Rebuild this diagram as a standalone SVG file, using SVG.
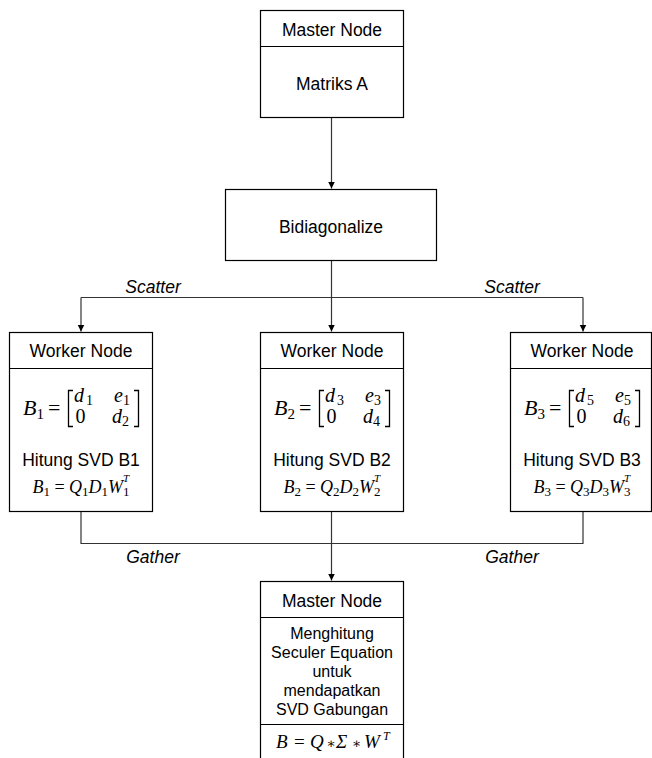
<svg xmlns="http://www.w3.org/2000/svg" width="652" height="758" viewBox="0 0 652 758">
<defs>
<style>
.box{fill:#fff;stroke:#000;stroke-width:1.2}
.div{stroke:#000;stroke-width:1.2;fill:none}
.t{font-family:"Liberation Sans",Arial,sans-serif;font-size:17.5px;fill:#000;text-anchor:middle}
.t16{font-family:"Liberation Sans",Arial,sans-serif;font-size:16px;fill:#000;text-anchor:middle}
.lbl{font-family:"Liberation Sans",Arial,sans-serif;font-size:17.5px;font-style:italic;fill:#000;text-anchor:middle}
.m{font-family:"Liberation Serif","DejaVu Serif",serif;fill:#000}
.it{font-style:italic}
.s{font-size:14px}
.br{fill:none;stroke:#000;stroke-width:1.3}
.con{fill:none;stroke:#333;stroke-width:1.2}
</style>
<marker id="ah" markerWidth="8" markerHeight="8" refX="7" refY="3.5" orient="auto" markerUnits="userSpaceOnUse">
<path d="M0,0 L7,3.5 L0,7 z" fill="#000"/>
</marker>
</defs>
<rect width="652" height="758" fill="#fff"/>

<g id="connectors">
<path class="con" d="M331.5,117.5 V188.5" marker-end="url(#ah)"/>
<path class="con" d="M331.5,260.5 V331.5" marker-end="url(#ah)"/>
<path class="con" d="M81,297.5 H583"/>
<path class="con" d="M81,297.5 V331.5" marker-end="url(#ah)"/>
<path class="con" d="M583,297.5 V331.5" marker-end="url(#ah)"/>
<path class="con" d="M81,511.5 V543.5 H583 V511.5"/>
<path class="con" d="M331.5,511.5 V580.5" marker-end="url(#ah)"/>
<text class="lbl" x="153" y="293">Scatter</text>
<text class="lbl" x="512" y="293">Scatter</text>
<text class="lbl" x="153" y="563">Gather</text>
<text class="lbl" x="512" y="563">Gather</text>
</g>

<g id="master-top">
<rect class="box" x="260.5" y="10.5" width="143" height="107"/>
<line class="div" x1="260.5" y1="46.5" x2="403.5" y2="46.5"/>
<text class="t" x="332" y="36">Master Node</text>
<text class="t" x="332" y="90">Matriks A</text>
</g>

<g id="bidiagonalize">
<rect class="box" x="225.5" y="189.5" width="211" height="71"/>
<text class="t" x="331" y="233">Bidiagonalize</text>
</g>

<g id="worker1">
<rect class="box" x="9.5" y="332.5" width="143" height="179"/>
<line class="div" x1="9.5" y1="368.5" x2="152.5" y2="368.5"/>
<text class="t" x="81" y="357">Worker Node</text>
<text class="m" x="23" y="415" font-size="22"><tspan class="it">B</tspan><tspan font-size="15" dy="4">1</tspan><tspan dy="-4" dx="4">=</tspan></text>
<path class="br" d="M73,390.5 H68.5 V426.5 H73"/>
<path class="br" d="M134,390.5 H138.5 V426.5 H134"/>
<text class="m" font-size="20"><tspan class="it" x="74" y="402">d</tspan><tspan class="s" dx="2" dy="3">1</tspan><tspan class="it" x="114" y="402">e</tspan><tspan class="s" dy="3">1</tspan><tspan x="75.5" y="423">0</tspan><tspan class="it" x="112" y="423">d</tspan><tspan class="s" dy="3">2</tspan></text>
<text class="t" x="81" y="466">Hitung SVD B1</text>
<text class="m" x="81" y="493" font-size="18" text-anchor="middle"><tspan class="it">B</tspan><tspan font-size="13" dy="3">1</tspan><tspan dy="-3"> = </tspan><tspan class="it">Q</tspan><tspan font-size="13" dy="3">1</tspan><tspan class="it" dy="-3">D</tspan><tspan font-size="13" dy="3">1</tspan><tspan class="it" dy="-3">W</tspan><tspan font-size="13" dy="3">1</tspan><tspan class="it" font-size="11" dx="-6.5" dy="-14">T</tspan></text>
</g>

<g id="worker2">
<rect class="box" x="260.5" y="332.5" width="143" height="179"/>
<line class="div" x1="260.5" y1="368.5" x2="403.5" y2="368.5"/>
<text class="t" x="332" y="357">Worker Node</text>
<text class="m" x="274" y="415" font-size="22"><tspan class="it">B</tspan><tspan font-size="15" dy="4">2</tspan><tspan dy="-4" dx="4">=</tspan></text>
<path class="br" d="M324,390.5 H319.5 V426.5 H324"/>
<path class="br" d="M385,390.5 H389.5 V426.5 H385"/>
<text class="m" font-size="20"><tspan class="it" x="325" y="402">d</tspan><tspan class="s" dx="2" dy="3">3</tspan><tspan class="it" x="365" y="402">e</tspan><tspan class="s" dy="3">3</tspan><tspan x="326.5" y="423">0</tspan><tspan class="it" x="363" y="423">d</tspan><tspan class="s" dy="3">4</tspan></text>
<text class="t" x="332" y="466">Hitung SVD B2</text>
<text class="m" x="332" y="493" font-size="18" text-anchor="middle"><tspan class="it">B</tspan><tspan font-size="13" dy="3">2</tspan><tspan dy="-3"> = </tspan><tspan class="it">Q</tspan><tspan font-size="13" dy="3">2</tspan><tspan class="it" dy="-3">D</tspan><tspan font-size="13" dy="3">2</tspan><tspan class="it" dy="-3">W</tspan><tspan font-size="13" dy="3">2</tspan><tspan class="it" font-size="11" dx="-6.5" dy="-14">T</tspan></text>
</g>

<g id="worker3">
<rect class="box" x="510.5" y="332.5" width="141" height="179"/>
<line class="div" x1="510.5" y1="368.5" x2="651.5" y2="368.5"/>
<text class="t" x="582" y="357">Worker Node</text>
<text class="m" x="524" y="415" font-size="22"><tspan class="it">B</tspan><tspan font-size="15" dy="4">3</tspan><tspan dy="-4" dx="4">=</tspan></text>
<path class="br" d="M574,390.5 H569.5 V426.5 H574"/>
<path class="br" d="M635,390.5 H639.5 V426.5 H635"/>
<text class="m" font-size="20"><tspan class="it" x="575" y="402">d</tspan><tspan class="s" dx="2" dy="3">5</tspan><tspan class="it" x="615" y="402">e</tspan><tspan class="s" dy="3">5</tspan><tspan x="576.5" y="423">0</tspan><tspan class="it" x="613" y="423">d</tspan><tspan class="s" dy="3">6</tspan></text>
<text class="t" x="582" y="466">Hitung SVD B3</text>
<text class="m" x="582" y="493" font-size="18" text-anchor="middle"><tspan class="it">B</tspan><tspan font-size="13" dy="3">3</tspan><tspan dy="-3"> = </tspan><tspan class="it">Q</tspan><tspan font-size="13" dy="3">3</tspan><tspan class="it" dy="-3">D</tspan><tspan font-size="13" dy="3">3</tspan><tspan class="it" dy="-3">W</tspan><tspan font-size="13" dy="3">3</tspan><tspan class="it" font-size="11" dx="-6.5" dy="-14">T</tspan></text>
</g>

<g id="master-bottom">
<rect class="box" x="260.5" y="581.5" width="143" height="200"/>
<line class="div" x1="260.5" y1="617.5" x2="403.5" y2="617.5"/>
<line class="div" x1="260.5" y1="724.5" x2="403.5" y2="724.5"/>
<text class="t" x="332" y="607">Master Node</text>
<text class="t16" x="332" y="638.5">Menghitung</text>
<text class="t16" x="332" y="657.5">Seculer Equation</text>
<text class="t16" x="332" y="676.5">untuk</text>
<text class="t16" x="332" y="695.5">mendapatkan</text>
<text class="t16" x="332" y="714.5">SVD Gabungan</text>
<text class="m" font-size="19" y="748"><tspan class="it" x="276">B</tspan><tspan x="294">=</tspan><tspan class="it" x="310">Q</tspan><tspan x="326.5" font-size="14">∗</tspan><tspan class="it" x="336">Σ</tspan><tspan x="352" font-size="14">∗</tspan><tspan class="it" x="364">W</tspan><tspan class="it" font-size="12" x="383" dy="-8">T</tspan></text>
</g>
</svg>
